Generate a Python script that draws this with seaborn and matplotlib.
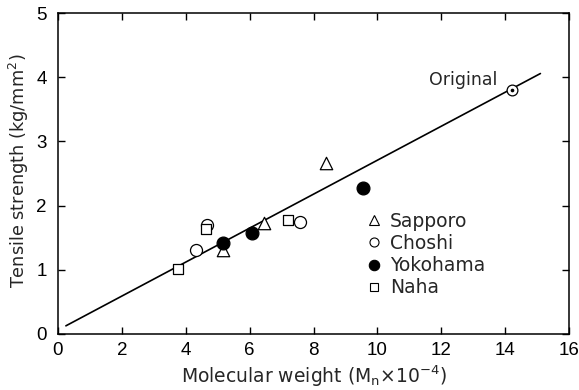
import matplotlib
matplotlib.use("Agg")
import matplotlib.pyplot as plt
import seaborn as sns
import pandas as pd
from matplotlib.lines import Line2D

sns.set_theme(style="ticks")
plt.rcParams["font.family"] = ["Liberation Sans", "DejaVu Sans"]
TEXT_FONT = "DejaVu Sans"

# Tensile strength vs. number-average molecular weight, by exposure site
sapporo_x = [5.17, 6.46, 8.40]
sapporo_y = [1.31, 1.73, 2.67]
choshi_x = [4.33, 4.67, 7.59]
choshi_y = [1.30, 1.70, 1.75]
yokohama_x = [5.17, 6.08, 9.56]
yokohama_y = [1.42, 1.58, 2.28]
naha_x = [3.76, 4.64, 7.21]
naha_y = [1.01, 1.64, 1.78]
original_x = [14.2]
original_y = [3.81]

# Regression line end points
fit_x = [0.25, 15.1]
fit_y = [0.125, 4.06]

x_ticks = [0, 2, 4, 6, 8, 10, 12, 14, 16]
y_ticks = [0, 1, 2, 3, 4, 5]

sites = ["Sapporo", "Choshi", "Yokohama", "Naha"]
site_x = [sapporo_x, choshi_x, yokohama_x, naha_x]
site_y = [sapporo_y, choshi_y, yokohama_y, naha_y]
markers = {"Sapporo": "^", "Choshi": "o", "Yokohama": "o", "Naha": "s"}
faces = {"Sapporo": "white", "Choshi": "white", "Yokohama": "black", "Naha": "white"}
sizes = {"Sapporo": 80, "Choshi": 75, "Yokohama": 85, "Naha": 52}

df = pd.DataFrame({
    "x": sum(site_x, []),
    "y": sum(site_y, []),
    "site": sum([[s] * len(v) for s, v in zip(sites, site_x)], []),
})
fit = pd.DataFrame({"x": fit_x, "y": fit_y})

fig, ax = plt.subplots(figsize=(5.79, 3.90), dpi=100)
fig.subplots_adjust(left=0.100, right=0.983, bottom=0.144, top=0.966)

sns.lineplot(data=fit, x="x", y="y", color="black", linewidth=1.2, ax=ax, zorder=1)

for s in sites:
    sub = df[df["site"] == s]
    sns.scatterplot(data=sub, x="x", y="y", marker=markers[s], s=sizes[s],
                    facecolor=faces[s], edgecolor="black", linewidth=0.9,
                    ax=ax, zorder=3, legend=False)

# Original (unexposed) sample: circle with a centre dot
orig = pd.DataFrame({"x": original_x, "y": original_y})
sns.scatterplot(data=orig, x="x", y="y", marker="o", s=60, facecolor="white",
                edgecolor="black", linewidth=0.9, ax=ax, zorder=3, legend=False)
sns.scatterplot(data=orig, x="x", y="y", marker="o", s=7, color="black",
                linewidth=0, ax=ax, zorder=4, legend=False)
ax.text(original_x[0] - 0.45, original_y[0] + 0.15, "Original", ha="right",
        va="center", fontsize=12.5, family=TEXT_FONT)

handles = [
    Line2D([], [], linestyle="none", marker=markers[s],
           markersize={"Sapporo": 7.5, "Choshi": 6.5, "Yokohama": 7.5, "Naha": 5.8}[s],
           markerfacecolor=faces[s], markeredgecolor="black", markeredgewidth=0.8)
    for s in sites
]
ax.legend(handles, sites, loc="upper left", bbox_to_anchor=(0.600, 0.381),
          frameon=False, prop={"family": TEXT_FONT, "size": 13.5},
          handletextpad=0.35, labelspacing=0.17,
          borderaxespad=0, borderpad=0, handlelength=1.0)

ax.set_xlim(0, 16)
ax.set_ylim(0, 5)
ax.set_xticks(x_ticks)
ax.set_yticks(y_ticks)
ax.tick_params(direction="in", top=True, right=True, length=5, width=1,
               labelsize=13.5, colors="black")
ax.tick_params(axis="x", pad=6)
ax.tick_params(axis="y", pad=8)
for sp in ax.spines.values():
    sp.set_visible(True)
    sp.set_linewidth(1.1)
    sp.set_color("black")

ax.set_xlabel(r"Molecular weight (M$_\mathrm{n}$$\times$10$^{-4}$)", fontsize=13.5,
              family=TEXT_FONT, labelpad=3)
ax.set_ylabel(r"Tensile strength (kg/mm$^2$)", fontsize=12.8, family=TEXT_FONT)
ax.yaxis.set_label_coords(-0.052, 0.51)

fig.savefig("out.png", dpi=100)
